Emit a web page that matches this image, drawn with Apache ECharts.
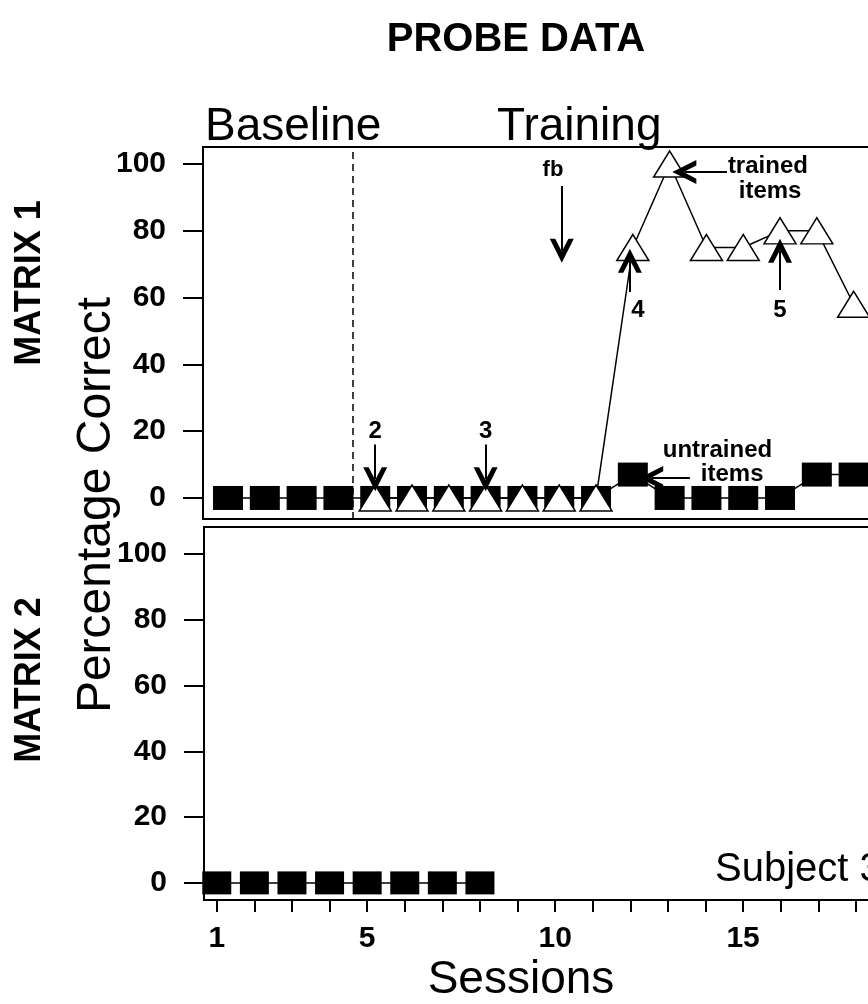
<!DOCTYPE html>
<html>
	<head>
		<meta charset="utf-8" />
		<title>Probe data</title>
		<script type="text/javascript" src="https://cdn.jsdelivr.net/npm/echarts@6/dist/echarts.min.js"></script>
		<style>
			html, body { margin: 0; padding: 0; background: #fff; overflow: hidden; }
			/* the figure runs off the right edge, so the canvas is wider than the window */
			#chart { width: 920px; height: 1004px; }
		</style>
	</head>
	<body>
		<div id="chart"></div>
		<script type="text/javascript">
			// sessions and values
			var sessions = [1, 2, 3, 4, 5, 6, 7, 8, 9, 10, 11, 12, 13, 14, 15, 16, 17, 18];
			var untrained1 = [0, 0, 0, 0, 0, 0, 0, 0, 0, 0, 0, 7, 0, 0, 0, 0, 7, 7];
			var trainedSessions = [5, 6, 7, 8, 9, 10, 11, 12, 13, 14, 15, 16, 17, 18];
			var trained1 = [0, 0, 0, 0, 0, 0, 0, 75, 100, 75, 75, 80, 80, 58];
			var sessions2 = [1, 2, 3, 4, 5, 6, 7, 8];
			var untrained2 = [0, 0, 0, 0, 0, 0, 0, 0];
			var phaseChange = 4.4;
			var yTicks = [0, 20, 40, 60, 80, 100];
			var xTicks = [1, 2, 3, 4, 5, 6, 7, 8, 9, 10, 11, 12, 13, 14, 15, 16, 17, 18, 19];
			var xLabels = [1, 5, 10, 15];

			function pairs(xs, ys) {
				var out = [];
				for (var i = 0; i < xs.length; i++) out.push([xs[i], ys[i]]);
				return out;
			}

			var txtFont = 'Liberation Sans';
			// open v-shaped arrow head, tip up (markLine turns it along the line)
			var chevron = 'path://M10,0 L20,16 L15.5,16 L10,7.5 L4.5,16 L0,16 Z';

			var yAxisBase = {
				type: 'value',
				axisLine: { show: true, onZero: false, lineStyle: { color: '#000', width: 2 } },
				axisTick: { show: true, inside: false, length: 20, customValues: yTicks, lineStyle: { color: '#000', width: 2 } },
				axisLabel: { show: true, customValues: yTicks, margin: 37, color: '#000', fontFamily: txtFont, fontWeight: 'bold', fontSize: 30 },
				splitLine: { show: false }
			};

			// annotation helpers (data coordinates of the top panel)
			function arrow(x1, y1, x2, y2) {
				return [{ coord: [x1, y1] }, { coord: [x2, y2] }];
			}
			function note(x, y, text, size) {
				return {
					coord: [x, y],
					symbol: 'circle',
					symbolSize: 1,
					itemStyle: { color: 'rgba(0,0,0,0)' },
					label: { show: true, position: 'inside', formatter: text, color: '#000', fontFamily: txtFont, fontWeight: 'bold', fontSize: size || 24 }
				};
			}

			var option = {
				animation: false,
				backgroundColor: '#fff',
				grid: [
					{ left: 203, top: 147, width: 697, height: 372, show: true, borderColor: '#000', borderWidth: 2, backgroundColor: 'transparent' },
					{ left: 204, top: 527, width: 697, height: 373, show: true, borderColor: '#000', borderWidth: 2, backgroundColor: 'transparent' }
				],
				xAxis: [{
					type: 'value', gridIndex: 0, min: 0.32, max: 19.26,
					axisLine: { show: true, onZero: false, lineStyle: { color: '#000', width: 2 } },
					axisTick: { show: false }, axisLabel: { show: false }, splitLine: { show: false }
				}, {
					type: 'value', gridIndex: 1, min: 0.66, max: 19.2,
					axisLine: { show: true, onZero: false, lineStyle: { color: '#000', width: 2 } },
					axisTick: { show: true, length: 12, customValues: xTicks, lineStyle: { color: '#000', width: 2 } },
					axisLabel: { show: true, customValues: xLabels, margin: 24, color: '#000', fontFamily: txtFont, fontWeight: 'bold', fontSize: 30 },
					splitLine: { show: false }
				}],
				yAxis: [
					Object.assign({}, yAxisBase, { gridIndex: 0, min: -6.3, max: 105.1 }),
					Object.assign({}, yAxisBase, { gridIndex: 1, min: -5.2, max: 108.2 })
				],
				series: [{
					name: 'untrained items',
					type: 'line',
					xAxisIndex: 0, yAxisIndex: 0,
					data: pairs(sessions, untrained1),
					symbol: 'rect', symbolSize: [30, 24],
					itemStyle: { color: '#000' },
					lineStyle: { color: '#000', width: 1.5 },
					z: 2,
					markLine: {
						silent: true, symbol: 'none', label: { show: false },
						itemStyle: { color: '#000' },
						lineStyle: { color: '#000', width: 1.5, type: [7, 5] },
						data: [{ xAxis: phaseChange }]
					}
				}, {
					name: 'trained items',
					type: 'line',
					xAxisIndex: 0, yAxisIndex: 0,
					data: pairs(trainedSessions, trained1),
					symbol: 'triangle', symbolSize: [32, 26],
					itemStyle: { color: '#fff', borderColor: '#000', borderWidth: 1.5 },
					lineStyle: { color: '#000', width: 1.5 },
					z: 3,
					markLine: {
						silent: true,
						symbol: ['none', chevron], symbolSize: 24,
						label: { show: false },
						itemStyle: { color: '#000' },
						lineStyle: { color: '#000', width: 2, type: 'solid' },
						data: [
							arrow(5, 16, 5, 5.6),
							arrow(8, 16, 8, 5.6),
							arrow(10.07, 93.4, 10.07, 74),
							arrow(11.92, 61.7, 11.92, 71),
							arrow(16, 62.3, 16, 74),
							arrow(14.56, 97.6, 13.4, 97.6),
							arrow(13.55, 6, 12.5, 6)
						]
					},
					markPoint: {
						silent: true,
						data: [
							note(5, 19.8, '2', 24),
							note(8, 19.8, '3', 24),
							note(9.83, 98.2, 'fb', 22),
							note(12.14, 56.3, '4', 24),
							note(16, 56.3, '5', 24),
							note(15.67, 99.4, 'trained', 24),
							note(15.73, 91.9, 'items', 24),
							note(14.3, 14.4, 'untrained', 24),
							note(14.7, 7.2, 'items', 24)
						]
					}
				}, {
					name: 'untrained items (matrix 2)',
					type: 'line',
					xAxisIndex: 1, yAxisIndex: 1,
					data: pairs(sessions2, untrained2),
					symbol: 'rect', symbolSize: [29, 23],
					itemStyle: { color: '#000' },
					lineStyle: { color: '#000', width: 1.5 },
					z: 2
				}],
				graphic: [
					{ type: 'text', x: 516, y: 40, style: { text: 'PROBE DATA', font: 'bold 40px "Liberation Sans"', fill: '#000', textAlign: 'center', textVerticalAlign: 'middle', verticalAlign: 'middle' } },
					{ type: 'text', x: 205, y: 127, z: 10, style: { text: 'Baseline', font: '46px "Liberation Sans"', fill: '#000', textAlign: 'left', textVerticalAlign: 'middle', verticalAlign: 'middle' } },
					{ type: 'text', x: 497, y: 127, z: 10, style: { text: 'Training', font: '46px "Liberation Sans"', fill: '#000', textAlign: 'left', textVerticalAlign: 'middle', verticalAlign: 'middle' } },
					{ type: 'text', x: 30, y: 283, rotation: Math.PI / 2, style: { text: 'MATRIX 1', font: 'bold 36px "Liberation Sans"', fill: '#000', textAlign: 'center', textVerticalAlign: 'middle', verticalAlign: 'middle' } },
					{ type: 'text', x: 30, y: 680, rotation: Math.PI / 2, style: { text: 'MATRIX 2', font: 'bold 36px "Liberation Sans"', fill: '#000', textAlign: 'center', textVerticalAlign: 'middle', verticalAlign: 'middle' } },
					{ type: 'text', x: 97, y: 505, rotation: Math.PI / 2, style: { text: 'Percentage Correct', font: '48px "Liberation Sans"', fill: '#000', textAlign: 'center', textVerticalAlign: 'middle', verticalAlign: 'middle' } },
					{ type: 'text', x: 521, y: 980, style: { text: 'Sessions', font: '46px "Liberation Sans"', fill: '#000', textAlign: 'center', textVerticalAlign: 'middle', verticalAlign: 'middle' } },
					{ type: 'text', x: 715, y: 870, style: { text: 'Subject 3', font: '40px "Liberation Sans"', fill: '#000', textAlign: 'left', textVerticalAlign: 'middle', verticalAlign: 'middle' } }
				]
			};

			var myChart = echarts.init(document.getElementById('chart'), null, { renderer: 'canvas' });
			myChart.setOption(option);
		</script>
	</body>
</html>
